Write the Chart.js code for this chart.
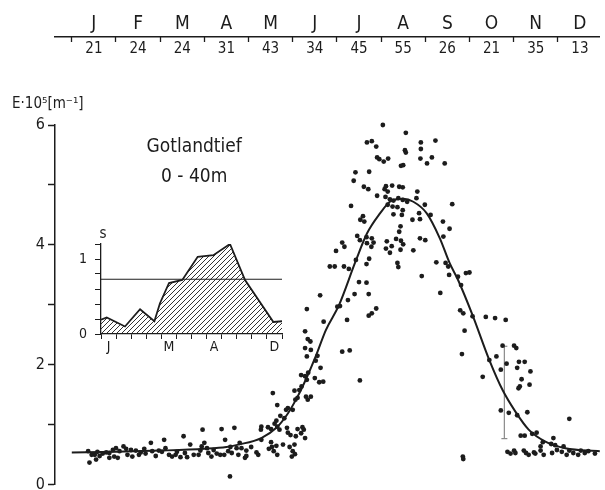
<!DOCTYPE html>
<html>
<head>
<meta charset="utf-8">
<script src="https://cdn.jsdelivr.net/npm/chart.js@4.4.1/dist/chart.umd.min.js"></script>
<style>
  html, body { margin: 0; padding: 0; background: #fff; }
  #main { position: absolute; left: 0; top: 0; width: 605px; height: 490px; }
  #small { position: absolute; left: 60px; top: 225px; width: 230px; height: 130px; }
</style>
</head>
<body>
<div id="main"><canvas id="chart"></canvas></div>
<div id="small"><canvas id="inset"></canvas></div>
<script>
const months = ['J','F','M','A','M','J','J','A','S','O','N','D'];
const counts = [21,24,24,31,43,34,45,55,26,21,35,13];

// fitted annual curve, [month, E*10^5]
const fitCurve = [
  [0,0.54],[1,0.55],[2,0.57],[3,0.6],[3.5,0.63],[3.77,0.67],[4.29,0.78],[4.63,0.95],
  [4.89,1.19],[5.11,1.47],[5.3,1.76],[5.52,2.14],[5.75,2.58],[6.05,3.0],[6.42,3.72],
  [6.68,4.19],[6.98,4.53],[7.2,4.72],[7.5,4.77],[7.73,4.72],[8.03,4.53],[8.33,4.11],
  [8.55,3.7],[8.74,3.42],[9.07,2.83],[9.45,2.08],[9.75,1.58],[10.04,1.22],[10.34,0.92],
  [10.72,0.72],[11.17,0.61],[11.95,0.56]
];

// single measurements, [month, E*10^5]
const observations = [
  [0.37,0.56],[0.40,0.37],[0.55,0.42],[0.52,0.50],[0.63,0.48],[0.70,0.52],[0.78,0.54],[0.85,0.53],
  [0.93,0.58],[1.00,0.61],[1.08,0.56],[0.96,0.47],[0.85,0.45],[1.04,0.45],[1.17,0.64],[1.23,0.60],
  [1.34,0.58],[1.37,0.47],[1.45,0.57],[1.52,0.50],[1.56,0.54],[1.67,0.52],[1.79,0.70],[1.82,0.56],
  [1.90,0.48],[1.97,0.57],[2.09,0.75],[2.12,0.61],[2.20,0.50],[2.27,0.47],[2.35,0.50],[2.46,0.46],
  [2.53,0.81],[2.61,0.46],[2.68,0.67],[2.76,0.50],[2.87,0.50],[2.91,0.57],[2.94,0.64],[2.96,0.92],
  [3.00,0.70],[3.06,0.61],[3.09,0.53],[3.21,0.58],[3.28,0.52],[3.36,0.50],[3.39,0.93],[3.47,0.75],
  [3.54,0.56],[3.58,0.14],[3.62,0.53],[3.68,0.95],[3.73,0.61],[3.77,0.50],[3.80,0.70],[3.84,0.61],
  [3.92,0.45],[3.95,0.48],[0.45,0.50],[0.58,0.55],[1.26,0.50],[1.64,0.60],[2.04,0.55],[2.38,0.55],
  [3.16,0.47],[3.45,0.50],[3.59,0.63],[2.56,0.53],
  [4.06,0.63],[4.18,0.54],[4.22,0.50],[4.29,0.75],[4.51,0.71],[4.53,0.63],[4.63,0.65],[4.46,0.60],
  [4.57,0.56],[4.65,0.50],[4.78,0.67],[4.93,0.63],[5.04,0.67],[5.00,0.56],[5.05,0.51],[4.98,0.47],
  [3.95,0.57],[4.29,0.97],[4.28,0.92],[4.44,0.96],[4.51,0.93],[4.63,1.07],[4.59,1.02],[4.65,0.97],
  [4.70,0.92],[4.87,0.95],[4.89,0.87],[4.95,0.83],[5.11,0.93],[5.22,0.96],[5.25,0.92],[5.19,0.86],
  [5.28,0.78],[5.07,0.81],[4.72,1.15],[4.81,1.11],[4.85,1.25],[4.89,1.28],[5.00,1.25],[4.65,1.33],
  [4.55,1.53],[5.04,1.57],[5.15,1.58],[5.06,1.42],[5.11,1.45],[5.41,1.47],[5.34,1.42],[5.19,1.83],
  [5.28,1.81],[5.32,1.75],[5.50,1.78],[5.35,1.87],[5.60,1.71],[5.69,1.72],[5.63,1.95],[5.52,2.07],
  [5.56,2.15],[5.32,2.14],[5.28,2.28],[5.34,2.43],[5.40,2.39],[5.28,2.56],[5.41,2.25],[6.12,2.22],
  [6.29,2.24],[6.52,1.74],[5.20,1.64],[5.30,1.47],
  [5.32,2.93],[5.62,3.16],[5.70,2.72],[6.01,2.97],[6.07,2.98],[6.25,3.08],[6.23,2.75],[6.40,3.18],
  [6.72,3.18],[6.50,3.38],[6.67,3.37],[6.89,2.94],[6.79,2.86],[6.72,2.82],[5.84,3.64],[5.95,3.64],
  [6.16,3.64],[6.27,3.60],[6.43,3.75],[6.73,3.77],[6.67,3.68],[5.98,3.90],[6.12,4.04],[6.17,3.97],
  [6.46,4.15],[6.52,4.08],[6.67,4.13],[6.79,4.11],[6.83,4.04],[6.68,4.03],[6.78,3.97],[6.59,4.48],
  [6.53,4.42],[6.62,4.39],[6.32,4.65],[7.37,3.70],[7.39,3.63],[7.34,4.10],[7.13,4.06],[7.45,4.07],
  [7.50,4.01],[7.24,3.98],[7.11,3.94],[7.20,3.87],[7.44,3.92],[7.44,4.31],[7.41,4.22],[7.28,4.51],
  [7.47,4.50],[7.26,4.64],[7.37,4.63],[7.49,4.58],[7.71,4.42],[7.73,3.91],[7.86,4.53],[8.12,4.50],
  [7.88,4.43],[7.88,4.11],[8.00,4.08],[7.92,3.48],[8.25,3.71],[8.46,3.70],[8.52,3.64],[8.54,3.50],
  [8.34,3.20],[8.40,4.39],[8.55,4.27],[8.41,4.14],[8.61,4.68],
  [7.15,4.67],[7.99,4.67],[7.10,4.80],[7.20,4.76],[7.28,4.74],[7.39,4.78],[7.49,4.75],[7.59,4.72],
  [7.80,4.78],[6.91,4.82],[7.82,4.89],[7.08,4.93],[7.15,4.89],[7.11,4.98],[7.25,4.99],[7.41,4.97],
  [7.49,4.96],[6.61,4.97],[6.71,4.93],[6.38,5.07],[6.42,5.21],[6.73,5.22],[7.45,5.32],[7.50,5.33],
  [6.91,5.46],[6.96,5.43],[7.06,5.39],[7.16,5.44],[7.89,5.44],[8.15,5.46],[8.04,5.36],[8.44,5.36],
  [7.54,5.58],[7.56,5.54],[7.90,5.60],[6.68,5.71],[6.79,5.73],[6.89,5.64],[7.90,5.71],[8.23,5.74],
  [7.56,5.87],[7.04,6.00],[7.26,6.19],[7.38,6.22],[8.20,6.19],[8.35,6.43],[7.32,6.71],
  [8.74,3.47],[8.81,3.33],[8.92,3.53],[9.00,3.54],[8.79,2.91],[8.86,2.86],[9.07,2.81],[9.37,2.80],
  [9.58,2.78],[9.82,2.75],[8.89,2.57],[8.83,2.18],[9.75,2.32],[10.01,2.32],[10.06,2.28],[9.84,2.02],
  [9.61,2.14],[9.45,2.08],[9.71,1.92],[10.12,2.05],[10.25,2.05],[10.08,1.95],[10.38,1.89],[10.18,1.76],
  [10.14,1.64],[10.11,1.61],[10.36,1.67],[9.30,1.80],[9.71,1.24],[9.89,1.20],[10.08,1.16],[10.31,1.21],
  [11.26,1.10],[10.16,0.82],[10.25,0.82],[10.42,0.85],[10.52,0.87],[10.90,0.78],[10.66,0.71],[10.85,0.68],
  [10.94,0.66],[8.85,0.47],[8.86,0.43],
  [9.86,0.55],[9.93,0.52],[10.01,0.57],[10.04,0.53],[10.23,0.57],[10.28,0.53],[10.34,0.50],[10.46,0.54],
  [10.49,0.52],[10.61,0.57],[10.68,0.50],[10.87,0.53],[10.98,0.58],[11.09,0.55],[11.20,0.50],[11.26,0.57],
  [11.35,0.53],[11.46,0.50],[11.52,0.57],[11.61,0.53],[11.84,0.52],[10.61,0.64],[11.13,0.64],[11.69,0.56]
];

const errorBar = [9.79, 0.77, 2.31]; // month, low, high

// inset: s per month
const insetMonths = [0, 0.38, 1.59, 2.59, 3.54, 3.91, 4.51, 5.39, 6.41, 7.45, 8.55, 9.55, 11.43, 12];
const insetS = [0.19, 0.22, 0.10, 0.33, 0.17, 0.41, 0.68, 0.72, 1.03, 1.05, 1.20, 0.72, 0.16, 0.17];
const insetLevel = 0.73;
const insetLabelPos = [0.5, 4.5, 7.5, 11.5];
const insetLabelText = ['J', 'M', 'A', 'D'];
const insetYTicks = [0, 0.2, 0.4, 0.6, 0.8, 1, 1.2];

const ink = '#1c1c1c';
const face = "'DejaVu Sans Condensed', 'DejaVu Sans', sans-serif";
Chart.defaults.font.family = face;
Chart.defaults.color = ink;

const noPad = s => { s.paddingLeft = 0; s.paddingRight = 0; s.paddingTop = 0; s.paddingBottom = 0; };
const onlyBoundary = c => (c.tick && Number.isInteger(c.tick.value)) ? ink : 'rgba(0,0,0,0)';

const notes = {
  id: 'notes',
  afterDraw(chart) {
    const { ctx, scales: { x, y } } = chart;
    ctx.save();
    ctx.fillStyle = ink;
    ctx.textBaseline = 'middle';
    ctx.textAlign = 'left';
    ctx.font = `15px ${face}`;
    ctx.fillText('E·10⁵[m⁻¹]', 12, y.getPixelForValue(6) - 21);
    ctx.textAlign = 'center';
    ctx.font = `19px ${face}`;
    ctx.fillText('Gotlandtief', x.getPixelForValue(2.77), y.getPixelForValue(5.64));
    ctx.fillText('0 - 40m', x.getPixelForValue(2.77), y.getPixelForValue(5.13));
    ctx.restore();
  }
};

new Chart(document.getElementById('chart'), {
  type: 'scatter',
  data: {
    datasets: [
      {
        type: 'line',
        data: fitCurve.map(p => ({ x: p[0], y: p[1] })),
        borderColor: ink, borderWidth: 2, pointRadius: 0,
        cubicInterpolationMode: 'monotone', clip: false
      },
      {
        data: observations.map(p => ({ x: p[0], y: p[1] })),
        backgroundColor: ink, pointRadius: 2.4, pointBorderWidth: 0, clip: false
      },
      {
        type: 'line',
        data: [{ x: errorBar[0], y: errorBar[1] }, { x: errorBar[0], y: errorBar[2] }],
        borderColor: '#8a8a8a', borderWidth: 1.2,
        pointStyle: 'line', pointRadius: 3, pointBorderColor: '#8a8a8a', pointBorderWidth: 1.2,
        clip: false
      }
    ]
  },
  options: {
    responsive: true,
    maintainAspectRatio: false,
    animation: false,
    layout: { padding: { left: 0, right: 0, top: 0, bottom: 5 } },
    plugins: { legend: { display: false }, tooltip: { enabled: false } },
    scales: {
      x: { type: 'linear', display: false, min: -0.38, max: 11.95 },
      y: {
        min: 0, max: 6,
        afterFit: s => { s.width = 55; noPad(s); },
        border: { color: ink, width: 1.5 },
        grid: { drawOnChartArea: false, tickLength: 7, tickColor: ink, tickWidth: 1.5 },
        ticks: { stepSize: 1, padding: 3, font: { size: 16 }, callback: v => v % 2 === 0 ? v : '' }
      },
      xCount: {
        type: 'linear', position: 'top', weight: 0, min: -0.38, max: 11.95,
        afterFit: s => { s.height = 88; noPad(s); },
        afterBuildTicks: s => { s.ticks = counts.map((c, i) => ({ value: i + 0.5 })); },
        border: { display: false },
        grid: { display: false },
        ticks: { autoSkip: false, maxRotation: 0, padding: 59, font: { size: 15 },
                 callback: v => counts[Math.floor(v)] }
      },
      xMonth: {
        type: 'linear', position: 'top', weight: 1, min: -0.38, max: 11.95,
        afterFit: s => { s.height = 37; noPad(s); },
        afterBuildTicks: s => {
          const t = [];
          months.forEach((m, i) => { t.push({ value: i }); t.push({ value: i + 0.5 }); });
          s.ticks = t;
        },
        border: { color: ink, width: 1.5 },
        grid: { drawOnChartArea: false, tickLength: -5, tickWidth: 1.3, tickColor: onlyBoundary },
        ticks: { autoSkip: false, maxRotation: 0, padding: 7, font: { size: 19 },
                 callback: v => Number.isInteger(v) ? '' : months[Math.floor(v)] }
      }
    }
  },
  plugins: [notes]
});

// hatching for the inset area
function hatch() {
  const c = document.createElement('canvas');
  c.width = 5; c.height = 5;
  const g = c.getContext('2d');
  g.strokeStyle = ink;
  g.lineWidth = 0.9;
  g.beginPath();
  g.moveTo(0, 5); g.lineTo(5, 0);
  g.moveTo(-1, 1); g.lineTo(1, -1);
  g.moveTo(4, 6); g.lineTo(6, 4);
  g.stroke();
  return g.createPattern(c, 'repeat');
}

const sLabel = {
  id: 'sLabel',
  afterDraw(chart) {
    const { ctx, chartArea } = chart;
    ctx.save();
    ctx.fillStyle = ink;
    ctx.font = `15px ${face}`;
    ctx.textAlign = 'center';
    ctx.textBaseline = 'middle';
    ctx.fillText('s', chartArea.left + 2, chartArea.top - 10);
    ctx.restore();
  }
};

new Chart(document.getElementById('inset'), {
  type: 'line',
  data: {
    datasets: [
      {
        data: insetMonths.map((m, i) => ({ x: m, y: insetS[i] })),
        borderColor: ink, borderWidth: 1.8, backgroundColor: hatch(),
        fill: 'origin', pointRadius: 0, tension: 0
      },
      {
        data: [{ x: 0, y: insetLevel }, { x: 12, y: insetLevel }],
        borderColor: ink, borderWidth: 1.2, pointRadius: 0, fill: false
      }
    ]
  },
  options: {
    responsive: true,
    maintainAspectRatio: false,
    animation: false,
    layout: { padding: { top: 19, right: 8, left: 0, bottom: 0 } },
    plugins: { legend: { display: false }, tooltip: { enabled: false } },
    scales: {
      x: {
        type: 'linear', min: 0, max: 12,
        afterFit: s => { s.height = 21; noPad(s); },
        afterBuildTicks: s => {
          const t = [];
          for (let i = 0; i <= 12; i++) t.push({ value: i });
          insetLabelPos.forEach(v => t.push({ value: v }));
          s.ticks = t.sort((a, b) => a.value - b.value);
        },
        border: { color: ink, width: 1.3 },
        grid: { drawOnChartArea: false, tickLength: 5, tickWidth: 1, tickColor: onlyBoundary },
        ticks: { autoSkip: false, maxRotation: 0, padding: 0, font: { size: 14 },
                 callback: v => { const k = insetLabelPos.indexOf(v); return k < 0 ? '' : insetLabelText[k]; } }
      },
      y: {
        min: 0, max: 1.2,
        afterFit: s => { s.width = 41; noPad(s); },
        afterBuildTicks: s => { s.ticks = insetYTicks.map(v => ({ value: v })); },
        border: { color: ink, width: 1.3 },
        grid: { drawOnChartArea: false, tickLength: 6, tickWidth: 1, tickColor: ink },
        ticks: { autoSkip: false, padding: 8, font: { size: 14 },
                 callback: v => (v === 0 || v === 1) ? v : '' }
      }
    }
  },
  plugins: [sLabel]
});
</script>
</body>
</html>
